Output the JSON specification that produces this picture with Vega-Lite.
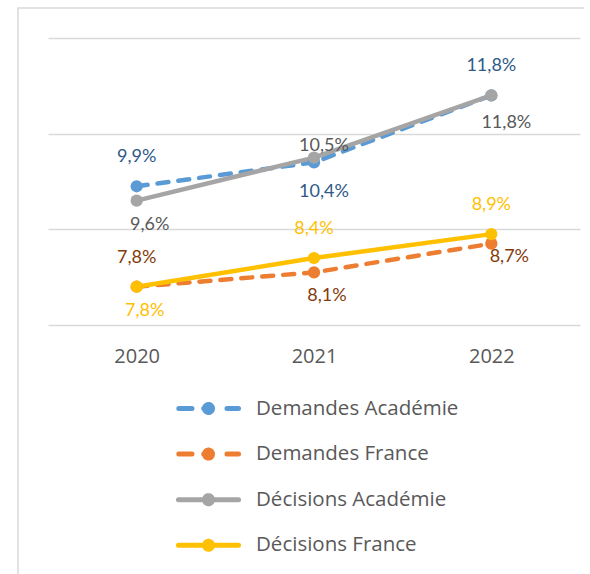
{
  "$schema": "https://vega.github.io/schema/vega-lite/v6.json",
  "width": 532,
  "height": 287,
  "autosize": {"type": "none"},
  "padding": {"left": 48, "top": 38, "right": 10, "bottom": 249},
  "background": "white",
  "config": {
    "view": {"stroke": null},
    "font": "Lato",
    "locale": {"number": {"decimal": ",", "thousands": " ", "grouping": [3], "currency": ["", " €"]}}
  },
  "data": {
    "values": [
      {"serie": "Demandes Académie", "annee": 2020, "taux": 0.099},
      {"serie": "Demandes Académie", "annee": 2021, "taux": 0.104},
      {"serie": "Demandes Académie", "annee": 2022, "taux": 0.118},
      {"serie": "Demandes France", "annee": 2020, "taux": 0.078},
      {"serie": "Demandes France", "annee": 2021, "taux": 0.081},
      {"serie": "Demandes France", "annee": 2022, "taux": 0.087},
      {"serie": "Décisions Académie", "annee": 2020, "taux": 0.096},
      {"serie": "Décisions Académie", "annee": 2021, "taux": 0.105},
      {"serie": "Décisions Académie", "annee": 2022, "taux": 0.118},
      {"serie": "Décisions France", "annee": 2020, "taux": 0.078},
      {"serie": "Décisions France", "annee": 2021, "taux": 0.084},
      {"serie": "Décisions France", "annee": 2022, "taux": 0.089}
    ]
  },
  "encoding": {
    "x": {
      "field": "annee", "type": "ordinal",
      "axis": {"title": null, "labelAngle": 0, "domain": false, "ticks": false, "tickSize": 0, "labelPadding": 21, "labelFont": "Open Sans", "labelFontSize": 20, "labelColor": "#595959", "grid": false}
    },
    "y": {
      "field": "taux", "type": "quantitative",
      "scale": {"domain": [0.07, 0.13], "nice": false, "zero": false},
      "axis": {"title": null, "labels": false, "ticks": false, "domain": false, "grid": true, "gridColor": "#d9d9d9", "gridWidth": 1.5, "values": [0.07, 0.09, 0.11, 0.13]}
    }
  },
  "layer": [
    {
      "transform": [{"filter": "datum.serie === 'Demandes Académie' || datum.serie === 'Demandes France'"}],
      "mark": {"type": "line", "strokeWidth": 4.5, "strokeCap": "round", "strokeDash": [11, 10]},
      "encoding": {
        "color": {
          "field": "serie", "type": "nominal",
          "scale": {"domain": ["Demandes Académie", "Demandes France", "Décisions Académie", "Décisions France"], "range": ["#5b9bd5", "#ed7d31", "#a5a5a5", "#ffc000"]},
          "legend": {
            "orient": "none", "legendX": 125, "legendY": 349, "direction": "vertical", "title": null,
            "symbolSize": 4356, "symbolStrokeWidth": 5, "labelFont": "Open Sans", "labelFontSize": 20.5, "labelColor": "#595959",
            "labelOffset": 12, "clipHeight": 43, "rowPadding": 2.6, "padding": 0, "labelLimit": 400,
            "encode": {
              "symbols": {
                "update": {
                  "shape": {"signal": "indexof(['Demandes Académie','Demandes France'], datum.value) >= 0 ? 'M-0.9,0L-0.5,0M-0.145,0L0,0M0.56,0L0.91,0M0.121,0A0.121,0.121,0,1,1,-0.121,0A0.121,0.121,0,1,1,0.121,0M0.03,0A0.03,0.03,0,1,1,-0.03,0A0.03,0.03,0,1,1,0.03,0' : 'M-0.91,0L0.91,0M0.121,0A0.121,0.121,0,1,1,-0.121,0A0.121,0.121,0,1,1,0.121,0M0.03,0A0.03,0.03,0,1,1,-0.03,0A0.03,0.03,0,1,1,0.03,0'"},
                  "strokeWidth": {"value": 5},
                  "strokeCap": {"value": "round"},
                  "strokeDash": {"value": [1, 0]},
                  "fill": {"scale": "color", "field": "value"},
                  "stroke": {"scale": "color", "field": "value"},
                  "opacity": {"value": 1}
                }
              }
            }
          }
        }
      }
    },
    {
      "transform": [{"filter": "datum.serie === 'Décisions Académie' || datum.serie === 'Décisions France'"}],
      "mark": {"type": "line", "strokeWidth": 4.5, "strokeCap": "round"},
      "encoding": {
        "color": {"field": "serie", "type": "nominal"}
      }
    },
    {
      "mark": {"type": "point", "filled": true, "size": 150, "opacity": 1},
      "encoding": {
        "color": {"field": "serie", "type": "nominal"}
      }
    },
    {
      "transform": [{"filter": "(datum.serie === 'Demandes Académie' && datum.annee !== 2021) || (datum.serie === 'Demandes France' && datum.annee === 2020) || (datum.serie === 'Décisions France' && datum.annee !== 2020)"}],
      "mark": {"type": "text", "dx": 0, "dy": -29, "fontSize": 18, "font": "Lato", "align": "center", "baseline": "middle"},
      "encoding": {
        "text": {"field": "taux", "format": ".1%"},
        "fill": {
          "field": "serie", "type": "nominal",
          "scale": {"domain": ["Demandes Académie", "Demandes France", "Décisions Académie", "Décisions France"], "range": ["#2f5a88", "#843c0c", "#595959", "#ffc000"]},
          "legend": {
            "orient": "top-left", "offset": -30, "title": null, "direction": "vertical",
            "padding": 300, "strokeColor": "#d9d9d9",
            "symbolOpacity": 0, "labelOpacity": 0, "symbolSize": 1, "labelFontSize": 1, "clipHeight": 1, "rowPadding": 0,
            "encode": {"legend": {"update": {"strokeDash": {"value": [566, 1260, 800, 1]}, "strokeWidth": {"value": 1.5}}}}
          }
        }
      }
    },
    {
      "transform": [{"filter": "datum.serie === 'Décisions Académie' && datum.annee === 2021"}],
      "mark": {"type": "text", "dx": 10, "dy": -12, "fontSize": 18, "font": "Lato", "align": "center", "baseline": "middle"},
      "encoding": {
        "text": {"field": "taux", "format": ".1%"},
        "fill": {"field": "serie", "type": "nominal"}
      }
    },
    {
      "transform": [{"filter": "datum.serie === 'Demandes Académie' && datum.annee === 2021"}],
      "mark": {"type": "text", "dx": 10, "dy": 30, "fontSize": 18, "font": "Lato", "align": "center", "baseline": "middle"},
      "encoding": {
        "text": {"field": "taux", "format": ".1%"},
        "fill": {"field": "serie", "type": "nominal"}
      }
    },
    {
      "transform": [{"filter": "(datum.serie === 'Demandes France' && datum.annee === 2021) || (datum.serie === 'Décisions Académie' && datum.annee === 2020)"}],
      "mark": {"type": "text", "dx": 13, "dy": 24, "fontSize": 18, "font": "Lato", "align": "center", "baseline": "middle"},
      "encoding": {
        "text": {"field": "taux", "format": ".1%"},
        "fill": {"field": "serie", "type": "nominal"}
      }
    },
    {
      "transform": [{"filter": "datum.serie === 'Décisions Académie' && datum.annee === 2022"}],
      "mark": {"type": "text", "dx": 15, "dy": 28, "fontSize": 18, "font": "Lato", "align": "center", "baseline": "middle"},
      "encoding": {
        "text": {"field": "taux", "format": ".1%"},
        "fill": {"field": "serie", "type": "nominal"}
      }
    },
    {
      "transform": [{"filter": "datum.serie === 'Demandes France' && datum.annee === 2022"}],
      "mark": {"type": "text", "dx": 18, "dy": 13, "fontSize": 18, "font": "Lato", "align": "center", "baseline": "middle"},
      "encoding": {
        "text": {"field": "taux", "format": ".1%"},
        "fill": {"field": "serie", "type": "nominal"}
      }
    },
    {
      "transform": [{"filter": "datum.serie === 'Décisions France' && datum.annee === 2020"}],
      "mark": {"type": "text", "dx": 8, "dy": 24, "fontSize": 18, "font": "Lato", "align": "center", "baseline": "middle"},
      "encoding": {
        "text": {"field": "taux", "format": ".1%"},
        "fill": {"field": "serie", "type": "nominal"}
      }
    }
  ]
}
